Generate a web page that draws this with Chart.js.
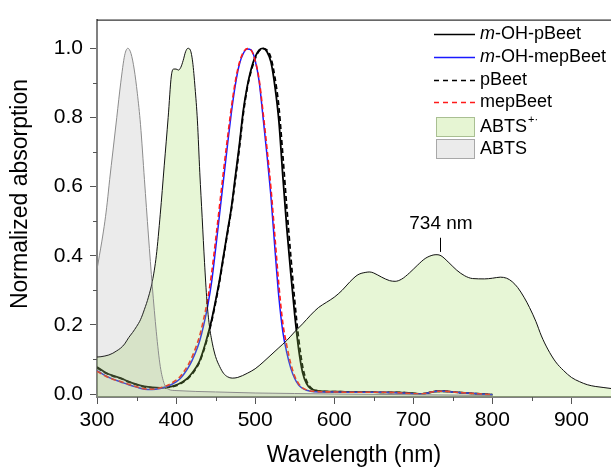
<!DOCTYPE html>
<html><head><meta charset="utf-8">
<script src="https://cdn.jsdelivr.net/npm/chart.js@4.4.0/dist/chart.umd.min.js"></script>
<style>html,body{margin:0;padding:0;background:#fff;overflow:hidden}</style>
</head><body><canvas id="c" width="611" height="467"></canvas>
<script>
// ---------- DATA ----------
const xTicks = [300, 400, 500, 600, 700, 800, 900];
const xMinorTicks = [350, 450, 550, 650, 750, 850, 950];
const yTicks = [0.0, 0.2, 0.4, 0.6, 0.8, 1.0];
const yMinorTicks = [0.1, 0.3, 0.5, 0.7, 0.9];

const seriesNames = ['m-OH-pBeet', 'm-OH-mepBeet', 'pBeet', 'mepBeet', 'ABTS+·', 'ABTS'];

// ABTS (gray)
const abtsWl  = [300,303,306,310,313,316,320,325,330,335,339,343,347,351,355,360,365,370,375,380,385,390,400,450,500,550,600,700,800];
const abtsVal = [0.36,0.40,0.44,0.50,0.555,0.62,0.70,0.80,0.90,0.98,1.0,0.985,0.94,0.87,0.78,0.62,0.46,0.31,0.18,0.08,0.03,0.014,0.010,0.006,0.003,0.0015,0.0,-0.002,-0.004];

// ABTS radical cation (green)
const abtsRadWl  = [300,305,310,315,320,325,330,335,340,345,350,355,360,365,370,375,380,385,390,394,397,400,403,406,409,412,415,418,421,424,427,430,433,436,439,442,446,450,455,460,465,471,478,490,500,510,520,530,540,550,560,570,580,590,600,610,620,630,640,645,650,660,670,677,685,695,705,715,725,730,735,745,755,765,775,790,800,810,818,825,832,840,847,855,862,870,880,890,900,910,920,930,940,950];
const abtsRadVal = [0.107,0.108,0.110,0.113,0.118,0.125,0.133,0.145,0.163,0.178,0.195,0.215,0.245,0.28,0.326,0.40,0.52,0.66,0.80,0.92,0.94,0.94,0.937,0.945,0.965,0.99,1.0,0.995,0.96,0.886,0.79,0.64,0.51,0.38,0.27,0.20,0.145,0.108,0.08,0.06,0.05,0.046,0.048,0.06,0.073,0.092,0.113,0.134,0.155,0.18,0.203,0.228,0.25,0.265,0.28,0.30,0.325,0.345,0.352,0.353,0.35,0.338,0.328,0.326,0.332,0.35,0.372,0.392,0.402,0.403,0.40,0.38,0.358,0.342,0.334,0.333,0.335,0.338,0.335,0.325,0.308,0.28,0.25,0.21,0.168,0.13,0.093,0.068,0.048,0.036,0.027,0.022,0.019,0.016];

// Betalain spectra (shared wavelength grid)
const betWl = [300,310,320,330,340,350,360,370,380,390,400,405,410,415,420,425,430,435,440,445,450,455,460,465,470,475,480,485,490,495,500,505,510,515,520,525,530,535,540,545,550,555,560,565,570,580,600,620,640,660,680,700,710,720,730,740,750,760,780,800];
const mOHpBeet = [0.078,0.063,0.053,0.046,0.036,0.028,0.022,0.019,0.018,0.020,0.026,0.031,0.038,0.047,0.060,0.076,0.097,0.13,0.17,0.215,0.27,0.33,0.40,0.47,0.54,0.63,0.72,0.82,0.89,0.94,0.975,0.995,1.0,0.99,0.96,0.89,0.79,0.63,0.48,0.35,0.23,0.13,0.062,0.030,0.016,0.009,0.007,0.006,0.006,0.005,0.005,0.002,0.0,0.004,0.008,0.008,0.006,0.004,0.001,-0.002];
const pBeet    = [0.076,0.062,0.052,0.045,0.035,0.027,0.021,0.018,0.017,0.019,0.024,0.029,0.036,0.045,0.057,0.073,0.094,0.126,0.165,0.21,0.265,0.325,0.395,0.465,0.535,0.62,0.71,0.81,0.885,0.935,0.97,0.992,0.999,0.995,0.972,0.915,0.83,0.69,0.54,0.40,0.27,0.16,0.08,0.038,0.019,0.009,0.007,0.006,0.006,0.005,0.005,0.002,0.0,0.004,0.008,0.008,0.006,0.004,0.001,-0.002];
const mOHmepBeet = [0.068,0.054,0.043,0.035,0.027,0.020,0.014,0.013,0.016,0.023,0.035,0.044,0.058,0.075,0.096,0.122,0.155,0.20,0.255,0.325,0.42,0.52,0.62,0.72,0.815,0.895,0.953,0.985,0.998,0.995,0.965,0.905,0.80,0.69,0.57,0.42,0.28,0.18,0.12,0.075,0.045,0.026,0.016,0.011,0.008,0.006,0.006,0.005,0.005,0.005,0.004,0.001,0.0,0.004,0.008,0.008,0.006,0.004,0.001,-0.002];
const mepBeet  = [0.066,0.053,0.043,0.036,0.028,0.021,0.015,0.014,0.018,0.026,0.040,0.050,0.065,0.083,0.106,0.135,0.17,0.218,0.275,0.35,0.445,0.545,0.645,0.74,0.83,0.905,0.958,0.988,0.999,0.994,0.965,0.91,0.815,0.71,0.595,0.455,0.315,0.205,0.14,0.088,0.052,0.030,0.018,0.012,0.009,0.007,0.006,0.005,0.005,0.005,0.004,0.001,0.0,0.004,0.008,0.008,0.006,0.004,0.001,-0.002];

const peakLabel = '734 nm';
const peakWl = 734;

// ---------- CHART ----------
const FONT = '"Liberation Sans", Arial, Helvetica, sans-serif';
const pts = (xs, ys) => xs.map((x, i) => ({x: x, y: ys[i]}));

const lineDs = (label, xs, ys, color, width, dash) => ({
  label, data: pts(xs, ys), borderColor: color, borderWidth: width,
  borderDash: dash || [], fill: false, pointRadius: 0, cubicInterpolationMode: 'monotone'
});

const datasets = [
  { label: seriesNames[5], data: pts(abtsWl, abtsVal), borderColor: '#8c8c8c', borderWidth: 1,
    backgroundColor: 'rgba(120,120,120,0.15)', fill: 'start', pointRadius: 0, cubicInterpolationMode: 'monotone' },
  { label: seriesNames[4], data: pts(abtsRadWl, abtsRadVal), borderColor: '#111', borderWidth: 1,
    backgroundColor: 'rgba(160,220,90,0.25)', fill: 'start', pointRadius: 0, cubicInterpolationMode: 'monotone' },
  lineDs(seriesNames[3], betWl, mepBeet, '#ff1a1a', 1.6, [5, 3]),
  lineDs(seriesNames[1], betWl, mOHmepBeet, '#1a1aff', 1.5),
  lineDs(seriesNames[2], betWl, pBeet, '#000', 1.8, [5, 3]),
  lineDs(seriesNames[0], betWl, mOHpBeet, '#000', 1.8),
];

const extras = {
  id: 'extras',
  afterDraw(chart) {
    const ctx = chart.ctx, xs = chart.scales.x, ys = chart.scales.y, a = chart.chartArea;
    ctx.save();
    // top frame line
    ctx.strokeStyle = '#000'; ctx.lineWidth = 1;
    ctx.beginPath(); ctx.moveTo(a.left, a.top + 0.5); ctx.lineTo(a.right, a.top + 0.5); ctx.stroke();
    // minor ticks
    ctx.strokeStyle = '#555'; ctx.lineWidth = 1;
    xMinorTicks.forEach(v => {
      const px = Math.round(xs.getPixelForValue(v)) + 0.5;
      ctx.beginPath(); ctx.moveTo(px, a.bottom); ctx.lineTo(px, a.bottom + 4); ctx.stroke();
    });
    yMinorTicks.forEach(v => {
      const py = Math.round(ys.getPixelForValue(v)) + 0.5;
      ctx.beginPath(); ctx.moveTo(a.left, py); ctx.lineTo(a.left - 4, py); ctx.stroke();
    });
    // axis titles
    ctx.fillStyle = '#000';
    ctx.font = '23px ' + FONT;
    ctx.textAlign = 'center'; ctx.textBaseline = 'middle';
    ctx.fillText('Wavelength (nm)', (a.left + a.right) / 2, 456);
    ctx.save();
    ctx.translate(21, 194); ctx.rotate(-Math.PI / 2);
    ctx.fillText('Normalized absorption', 0, 0);
    ctx.restore();
    // peak annotation
    const pkx = Math.round(xs.getPixelForValue(peakWl)) + 0.5;
    ctx.strokeStyle = '#000'; ctx.lineWidth = 1;
    ctx.beginPath(); ctx.moveTo(pkx, ys.getPixelForValue(0.452)); ctx.lineTo(pkx, ys.getPixelForValue(0.411)); ctx.stroke();
    ctx.font = '19px ' + FONT;
    ctx.fillText(peakLabel, xs.getPixelForValue(peakWl + 1), ys.getPixelForValue(0.492));
    // legend
    const lx0 = 434, lx1 = 475, tx = 480;
    const rows = [34, 57, 80, 102];
    const styles = [['#000', []], ['#1a1aff', []], ['#000', [5, 4]], ['#ff1a1a', [5, 4]]];
    ctx.textAlign = 'left';
    [0, 1, 2, 3].forEach((k, i) => {
      ctx.strokeStyle = styles[i][0]; ctx.lineWidth = 1.3; ctx.setLineDash(styles[i][1]);
      ctx.beginPath(); ctx.moveTo(lx0, rows[i] + 0.5); ctx.lineTo(lx1, rows[i] + 0.5); ctx.stroke();
      ctx.setLineDash([]);
      const name = seriesNames[k];
      let x = tx;
      if (name.startsWith('m-')) {
        ctx.font = 'italic 18px ' + FONT; ctx.fillText('m', x, rows[i]); x += ctx.measureText('m').width;
        ctx.font = '18px ' + FONT; ctx.fillText(name.slice(1), x, rows[i]);
      } else {
        ctx.font = '18px ' + FONT; ctx.fillText(name, x, rows[i]);
      }
    });
    // boxes
    ctx.lineWidth = 1;
    ctx.fillStyle = '#e6f5d3'; ctx.strokeStyle = '#a9bf92';
    ctx.fillRect(436, 117, 38, 19); ctx.strokeRect(436.5, 117.5, 38, 19);
    ctx.fillStyle = '#ebebeb'; ctx.strokeStyle = '#a8a8a8';
    ctx.fillRect(436, 139, 38, 19); ctx.strokeRect(436.5, 139.5, 38, 19);
    ctx.fillStyle = '#000';
    ctx.font = '18px ' + FONT;
    ctx.fillText('ABTS', tx, 127);
    const w = ctx.measureText('ABTS').width;
    ctx.font = '11px ' + FONT;
    ctx.fillText('+·', tx + w + 1, 120);
    ctx.font = '18px ' + FONT;
    ctx.fillText(seriesNames[5], tx, 149);
    ctx.restore();
  }
};

new Chart(document.getElementById('c'), {
  type: 'line',
  data: { datasets },
  options: {
    responsive: false, animation: false, devicePixelRatio: 1,
    layout: { padding: { top: 15, right: 0, left: 0, bottom: 0 } },
    plugins: { legend: { display: false }, tooltip: { enabled: false } },
    elements: { point: { radius: 0 } },
    scales: {
      x: {
        type: 'linear', min: 300, max: 950,
        afterBuildTicks: s => { s.ticks = xTicks.map(v => ({ value: v })); },
        afterFit: s => { s.height = 70; },
        grid: { display: true, drawOnChartArea: false, drawTicks: true, tickLength: 7, tickColor: '#555', tickWidth: 1 },
        border: { display: true, color: '#808080', width: 2 },
        ticks: { font: { family: FONT, size: 21 }, color: '#000', padding: 4, maxRotation: 0, autoSkip: false }
      },
      y: {
        type: 'linear', min: -0.0086, max: 1.083,
        afterBuildTicks: s => { s.ticks = yTicks.map(v => ({ value: v })); },
        afterFit: s => { s.width = 97; },
        grid: { display: true, drawOnChartArea: false, drawTicks: true, tickLength: 7, tickColor: '#555', tickWidth: 1 },
        border: { display: true, color: '#808080', width: 2 },
        ticks: { font: { family: FONT, size: 21 }, color: '#000', padding: 7, autoSkip: false,
                 callback: v => v.toFixed(1) }
      }
    }
  },
  plugins: [extras]
});
</script></body></html>
